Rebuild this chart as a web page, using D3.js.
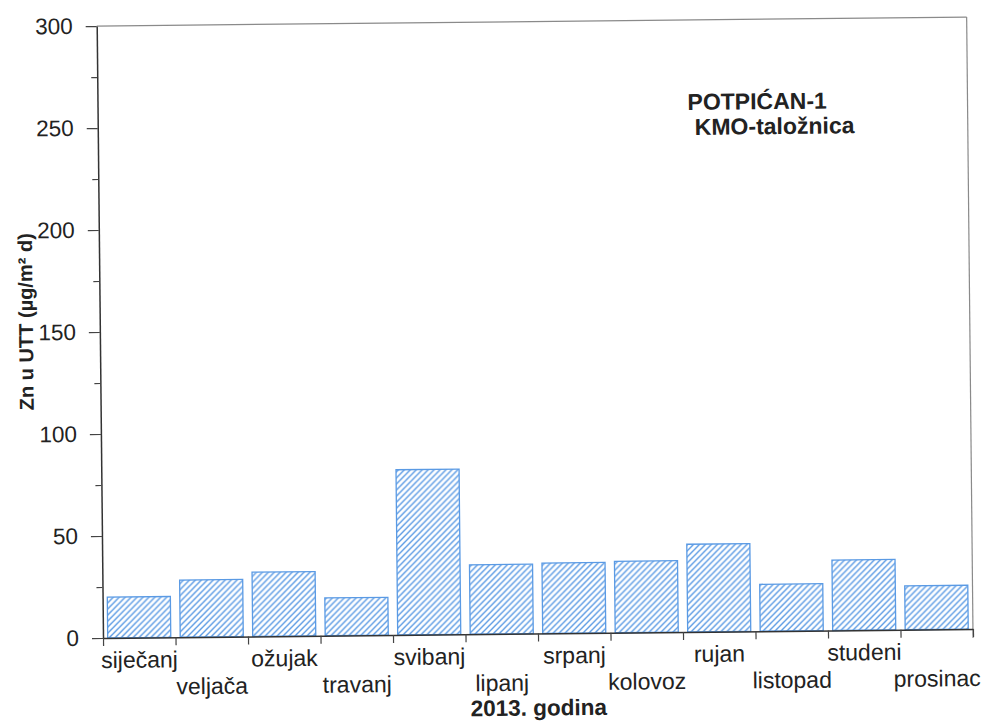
<!DOCTYPE html>
<html>
<head>
<meta charset="utf-8">
<script src="https://cdn.jsdelivr.net/npm/d3@7"></script>
<style>
  html, body { margin: 0; padding: 0; background: #fff; }
  svg { display: block; }
  text { font-family: "Liberation Sans", Arial, Helvetica, sans-serif; fill: #222; }
</style>
</head>
<body>
<svg id="chart" width="986" height="722"></svg>
<script>
// Monthly zinc deposition, 2013
const months = ["siječanj", "veljača", "ožujak", "travanj", "svibanj", "lipanj",
                "srpanj", "kolovoz", "rujan", "listopad", "studeni", "prosinac"];
const znValues = [20, 28, 31.5, 18.5, 81, 34, 34.5, 35, 43, 23, 34.5, 21.5];
const yMajorTicks = [0, 50, 100, 150, 200, 250, 300];
const yMinorTicks = [25, 75, 125, 175, 225, 275];
const yTitle = "Zn u UTT (µg/m² d)";
const xTitle = "2013. godina";
const stationLines = ["POTPIĆAN-1", "KMO-taložnica"];

const plotW = 870, plotH = 612;
const originX = 103, originY = 638;
const tilt = -0.59;
const barBlue = "#5a9ae4";

const svg = d3.select("#chart");

// diagonal hatch used to fill the bars
const defs = svg.append("defs");
const hatch = defs.append("pattern")
  .attr("id", "hatch")
  .attr("patternUnits", "userSpaceOnUse")
  .attr("width", 6).attr("height", 6);
hatch.append("rect").attr("width", 6).attr("height", 6).attr("fill", "#fff");
hatch.append("path")
  .attr("d", "M-1,1 l2,-2 M0,6 l6,-6 M5,7 l2,-2")
  .attr("stroke", barBlue).attr("stroke-width", 1.4);

const g = svg.append("g")
  .attr("transform", `translate(${originX},${originY}) rotate(${tilt}) translate(0,${-plotH})`);

const x = d3.scaleBand().domain(months).range([0, plotW])
  .paddingInner(0.13).paddingOuter(0.065);
const y = d3.scaleLinear().domain([0, 300]).range([plotH, 0]);
const boundary = d3.scaleLinear().domain([0, months.length]).range([0, plotW]);

// frame: light top and right borders
g.append("line").attr("x1", 0).attr("x2", plotW).attr("y1", 0).attr("y2", 0)
  .attr("stroke", "#8a8a8a").attr("stroke-width", 1.2);
g.append("line").attr("x1", plotW).attr("x2", plotW).attr("y1", 0).attr("y2", plotH + 9)
  .attr("stroke", "#8a8a8a").attr("stroke-width", 1.2);

// bars
g.append("g").selectAll("rect")
  .data(months.map((m, i) => ({ m, v: znValues[i] })))
  .join("rect")
  .attr("x", d => x(d.m))
  .attr("y", d => y(d.v))
  .attr("width", x.bandwidth())
  .attr("height", d => y(0) - y(d.v))
  .attr("fill", "url(#hatch)")
  .attr("stroke", barBlue)
  .attr("stroke-width", 1.3);

// y axis with major and minor ticks
const yAxis = g.append("g")
  .call(d3.axisLeft(y).tickValues(yMajorTicks).tickSize(11).tickSizeOuter(0).tickPadding(13));
yAxis.select(".domain").attr("stroke", "#333").attr("stroke-width", 1.5);
yAxis.selectAll(".tick line").attr("stroke", "#444").attr("stroke-width", 1.2);
yAxis.selectAll(".tick text").style("font-size", "22.5px").attr("fill", "#222");

const yMinor = g.append("g")
  .call(d3.axisLeft(y).tickValues(yMinorTicks).tickSize(6).tickSizeOuter(0).tickFormat(""));
yMinor.select(".domain").remove();
yMinor.selectAll(".tick line").attr("stroke", "#444").attr("stroke-width", 1.2);

// x axis: ticks at month boundaries, labels staggered in two rows
const xTicks = g.append("g").attr("transform", `translate(0,${plotH})`)
  .call(d3.axisBottom(boundary).tickValues(d3.range(months.length + 1))
    .tickSize(8).tickSizeOuter(0).tickFormat(""));
xTicks.select(".domain").attr("stroke", "#333").attr("stroke-width", 1.5);
xTicks.selectAll(".tick line").attr("stroke", "#444").attr("stroke-width", 1.2);

const xLabels = g.append("g").attr("transform", `translate(0,${plotH})`)
  .call(d3.axisBottom(x).tickSize(0));
xLabels.select(".domain").remove();
xLabels.selectAll(".tick text")
  .attr("y", (d, i) => (i % 2 === 0 ? 30 : 57))
  .attr("dy", 0)
  .style("font-size", "23px")
  .attr("fill", "#222");

// axis titles
g.append("text")
  .attr("x", plotW / 2).attr("y", plotH + 82)
  .attr("text-anchor", "middle")
  .style("font-size", "22.5px").style("font-weight", "bold")
  .text(xTitle);

g.append("text")
  .attr("transform", `translate(-67,${plotH - 317}) rotate(-90)`)
  .attr("text-anchor", "middle")
  .style("font-size", "20px").style("font-weight", "bold")
  .text(yTitle);

// station label
g.append("text").attr("x", 590).attr("y", 90)
  .style("font-size", "23px").style("font-weight", "bold")
  .text(stationLines[0]);
g.append("text").attr("x", 597).attr("y", 115)
  .style("font-size", "23px").style("font-weight", "bold")
  .text(stationLines[1]);
</script>
</body>
</html>
